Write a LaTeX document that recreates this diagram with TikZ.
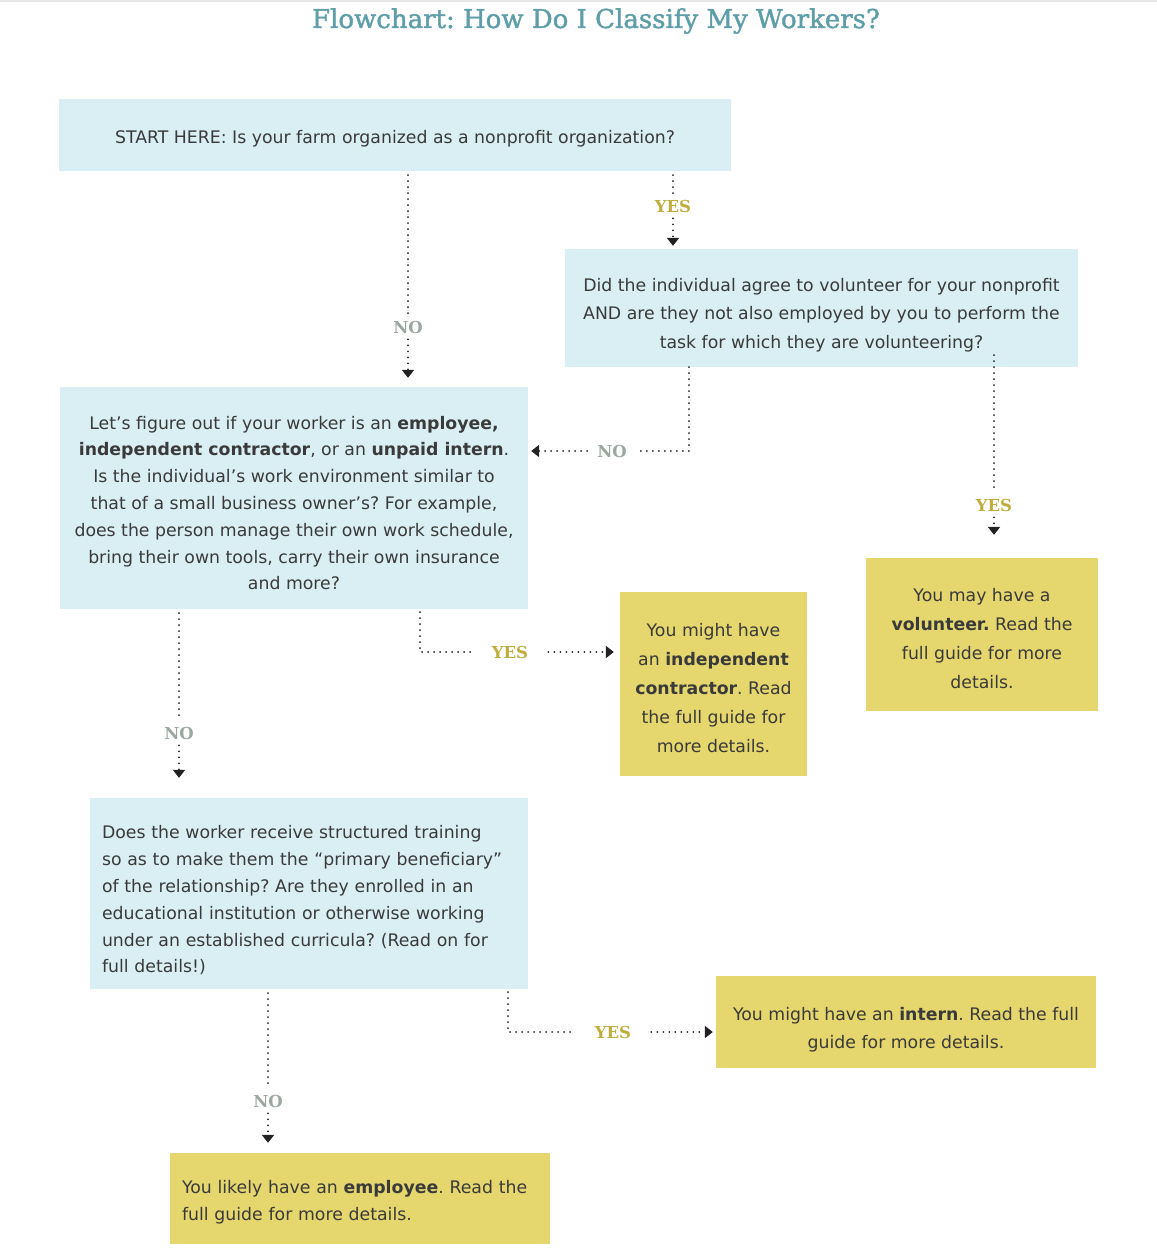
\documentclass[tikz,border=0pt]{standalone}
\usepackage{fontspec}
\setmainfont{DejaVu Sans}
\newfontfamily\slab{DejaVu Serif}
\newfontfamily\titlefont{DejaVu Serif}[FakeBold=1.6]
\usetikzlibrary{arrows.meta,calc}
\definecolor{boxblue}{HTML}{DAEFF4}
\definecolor{boxyel}{HTML}{E5D66E}
\definecolor{yescol}{HTML}{BFAE3C}
\definecolor{nocol}{HTML}{9BA89F}
\definecolor{titlecol}{HTML}{5E9EA9}
\definecolor{txt}{HTML}{3A3A3A}
\definecolor{dotc}{HTML}{222222}
\newcommand\tdn[1]{\rule{0pt}{\dimexpr 13.2pt+#1pt*2\relax}}
\frenchspacing
\begin{document}
\begin{tikzpicture}[x=1pt,y=-1pt,
  box/.style={draw=none, text=txt, align=center, inner sep=0pt},
  bluebox/.style={box, fill=boxblue},
  yelbox/.style={box, fill=boxyel},
  lab/.style={font=\slab\bfseries\fontsize{16.5}{16.5}\selectfont, inner xsep=10pt, inner ysep=6pt},
  yeslab/.style={lab, text=yescol},
  nolab/.style={lab, text=nocol},
  dotline/.style={draw=dotc, line width=2pt, line cap=round, dash pattern=on 0pt off 6pt},
  arr/.style={dotline, -{Triangle[width=12pt,length=8pt]}}
]
\useasboundingbox (0,0) rectangle (1157,1259);
\fill[black!10] (0,0) rectangle (1157,2);

\node[font=\titlefont\fontsize{26}{30}\selectfont, text=titlecol] (title) at (596,21) {Flowchart: How Do I Classify My Workers?};

\node[bluebox, minimum width=672pt, minimum height=72pt, font=\fontsize{17.3}{28}\selectfont] (s1) at (395,135)
  {\tdn{4}START HERE: Is your farm organized as a nonprofit organization?};

\node[bluebox, minimum width=513pt, minimum height=118pt, font=\fontsize{17.3}{28.5}\selectfont] (vol) at (821.5,308)
  {\tdn{7}Did the individual agree to volunteer for your nonprofit\\AND are they not also employed by you to perform the\\task for which they are volunteering?};

\node[bluebox, minimum width=468pt, minimum height=222pt, font=\fontsize{17.3}{26.8}\selectfont] (q1) at (294,498)
  {\tdn{5}Let’s figure out if your worker is an \textbf{employee,}\\\textbf{independent contractor}, or an \textbf{unpaid intern}.\\Is the individual’s work environment similar to\\that of a small business owner’s? For example,\\does the person manage their own work schedule,\\bring their own tools, carry their own insurance\\and more?};

\node[yelbox, minimum width=187pt, minimum height=184pt, font=\fontsize{17.3}{29}\selectfont] (ic) at (713.5,684)
  {\tdn{4}You might have\\an \textbf{independent}\\\textbf{contractor}. Read\\the full guide for\\more details.};

\node[yelbox, minimum width=232pt, minimum height=153pt, font=\fontsize{17.3}{29}\selectfont] (vr) at (982,634.5)
  {\tdn{4}You may have a\\\textbf{volunteer.} Read the\\full guide for more\\details.};

\node[bluebox, align=left, text width=414pt, inner xsep=12pt, minimum height=191pt, font=\fontsize{17.3}{26.8}\selectfont] (q2) at (309,893.5)
  {\tdn{7}Does the worker receive structured training\\so as to make them the “primary beneficiary”\\of the relationship? Are they enrolled in an\\educational institution or otherwise working\\under an established curricula? (Read on for\\full details!)};

\node[yelbox, minimum width=380pt, minimum height=92pt, font=\fontsize{17.3}{28}\selectfont] (ir) at (906,1022)
  {\tdn{8}You might have an \textbf{intern}. Read the full\\guide for more details.};

\node[yelbox, align=left, text width=356pt, inner xsep=12pt, minimum height=91pt, font=\fontsize{17.3}{27}\selectfont] (emp) at (360,1198.5)
  {\tdn{4}You likely have an \textbf{employee}. Read the\\full guide for more details.};

% labels
\node[nolab] (n1) at (408,327) {NO};
\node[yeslab] (y2) at (673,206) {YES};
\node[nolab] (n3) at (612,451) {NO};
\node[yeslab] (y4) at (994,505) {YES};
\node[yeslab, inner xsep=20pt] (y5) at (510,652) {YES};
\node[nolab] (n6) at (179,733) {NO};
\node[yeslab, inner xsep=20pt] (y7) at (613,1032) {YES};
\node[nolab] (n8) at (268,1101) {NO};

\coordinate (b3) at (689,451);
\coordinate (b5) at (420,652);
\coordinate (b7) at (508,1032);

% connectors
\draw[dotline, shorten <=4pt] (s1.south -| n1) -- (n1);
\draw[arr, shorten >=9pt] (n1) -- (n1 |- q1.north);

\draw[dotline, shorten <=4pt] (s1.south -| y2) -- (y2);
\draw[arr, shorten >=3pt] (y2) -- (y2 |- vol.north);

\draw[dotline] (b3 |- vol.south) -- (b3) -- (n3);
\draw[arr, shorten >=3pt] (n3) -- (n3 -| q1.east);

\draw[dotline] ($(y4 |- vol.south)+(0,-12)$) -- (y4);
\draw[arr, shorten >=23pt] (y4) -- (y4 |- vr.north);

\draw[dotline, shorten <=3pt] (b5 |- q1.south) -- (b5) -- (y5);
\draw[arr, shorten >=6pt] (y5) -- (y5 -| ic.west);

\draw[dotline, shorten <=4pt] (q1.south -| n6) -- (n6);
\draw[arr, shorten >=20pt] (n6) -- (n6 |- q2.north);

\draw[dotline, shorten <=3pt] (b7 |- q2.south) -- (b7) -- (y7);
\draw[arr, shorten >=3pt] (y7) -- (y7 -| ir.west);

\draw[dotline, shorten <=4pt] (q2.south -| n8) -- (n8);
\draw[arr, shorten >=10pt] (n8) -- (n8 |- emp.north);
\end{tikzpicture}
\end{document}
